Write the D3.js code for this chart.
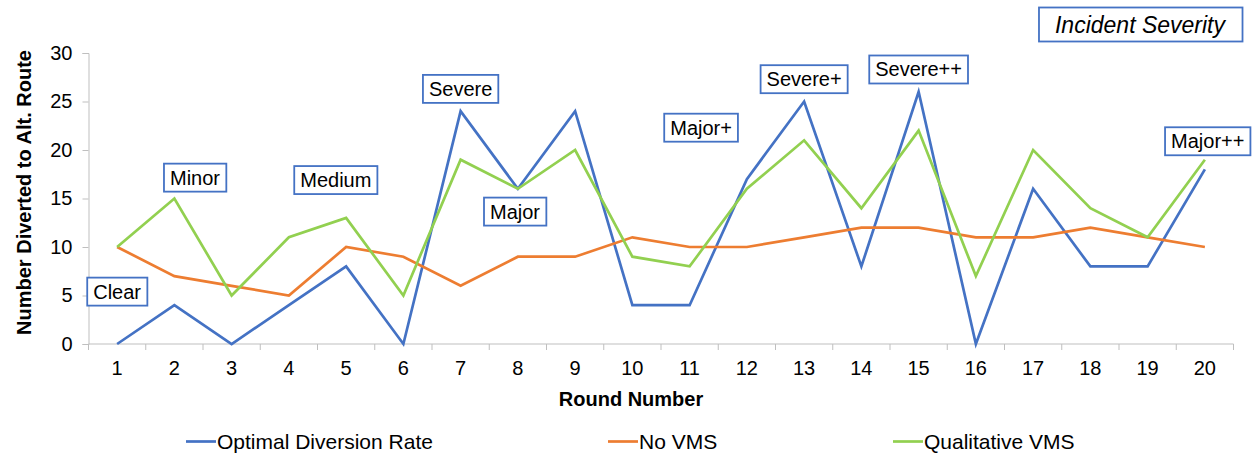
<!DOCTYPE html>
<html>
<head>
<meta charset="utf-8">
<script src="https://cdn.jsdelivr.net/npm/d3@7/dist/d3.min.js"></script>
<style>
  html, body { margin: 0; padding: 0; background: #fff; }
  svg { display: block; font-family: Arial, "Liberation Sans", sans-serif; }
</style>
</head>
<body>
<svg id="chart" width="1254" height="455"></svg>
<script>
// Rounds 1..20
const rounds = d3.range(1, 21);

// Number of drivers diverted to the alternative route per round
const optimalDiversion = [0, 4, 0, 4, 8, 0, 24, 16, 24, 4, 4, 17, 25, 8, 26, 0, 16, 8, 8, 18];
const noVMS            = [10, 7, 6, 5, 10, 9, 6, 9, 9, 11, 10, 10, 11, 12, 12, 11, 11, 12, 11, 10];
const qualitativeVMS   = [10, 15, 5, 11, 13, 5, 19, 16, 20, 9, 8, 16, 21, 14, 22, 7, 20, 14, 11, 19];

const seriesNames  = ["Optimal Diversion Rate", "No VMS", "Qualitative VMS"];
const seriesColors = ["#4472C4", "#ED7D31", "#92D050"];

const yTicks = [0, 5, 10, 15, 20, 25, 30];

// Incident severity callouts, anchored in data coordinates (round, value)
const severityLabels = ["Clear", "Minor", "Medium", "Severe", "Major", "Major+", "Severe+", "Severe++", "Major++"];
const severityRounds = [1.0, 2.36, 4.82, 7.0, 7.95, 11.2, 13.0, 15.0, 20.05];
const severityValues = [5.4, 17.15, 16.9, 26.3, 13.65, 22.3, 27.3, 28.3, 20.9];

const svg = d3.select("#chart");
const x0 = 88.5, x1 = 1233.5;

const x = d3.scaleBand()
  .domain(rounds)
  .range([x0, x1])
  .paddingInner(0).paddingOuter(0);

// continuous round scale for annotation placement (band centres)
const xr = d3.scaleLinear().domain([0.5, 20.5]).range([x0, x1]);

const y = d3.scaleLinear()
  .domain([0, 30])
  .range([344, 53]);

const axisColor = "#BFBFBF";
const fontSize = 20;

// Y axis
const yAxis = svg.append("g")
  .attr("transform", `translate(${x0},0)`)
  .call(d3.axisLeft(y).tickValues(yTicks).tickSize(6).tickPadding(10));
yAxis.select(".domain").attr("stroke", axisColor).attr("stroke-width", 1);
yAxis.selectAll(".tick line").attr("stroke", axisColor);
yAxis.selectAll(".tick text")
  .attr("font-size", fontSize).attr("fill", "#000")
  .attr("font-family", "Arial, 'Liberation Sans', sans-serif");

// X axis: ticks at category boundaries, labels centred in each band
const xAxisG = svg.append("g").attr("transform", `translate(0,${y(0)})`);
xAxisG.append("line")
  .attr("x1", x0).attr("x2", x1)
  .attr("stroke", axisColor).attr("stroke-width", 1);
const boundaries = d3.range(0, rounds.length + 1).map(i => x0 + i * x.step());
xAxisG.selectAll("line.tb").data(boundaries).join("line")
  .attr("class", "tb")
  .attr("x1", d => d).attr("x2", d => d)
  .attr("y1", 0).attr("y2", 6)
  .attr("stroke", axisColor);
xAxisG.selectAll("text").data(rounds).join("text")
  .attr("x", d => x(d) + x.bandwidth() / 2)
  .attr("y", 31)
  .attr("text-anchor", "middle")
  .attr("font-size", fontSize)
  .attr("fill", "#000")
  .text(d => d);

// Axis titles
svg.append("text")
  .attr("x", 631)
  .attr("y", 406)
  .attr("text-anchor", "middle")
  .attr("font-size", fontSize).attr("font-weight", "bold")
  .text("Round Number");

svg.append("text")
  .attr("transform", `translate(31,${(y(0) + y(30)) / 2 - 6}) rotate(-90)`)
  .attr("text-anchor", "middle")
  .attr("font-size", fontSize).attr("font-weight", "bold")
  .text("Number Diverted to Alt. Route");

// Lines
const cx = d => x(d) + x.bandwidth() / 2;
const line = d3.line()
  .x((v, i) => cx(rounds[i]))
  .y(v => y(v));

[optimalDiversion, noVMS, qualitativeVMS].forEach((vals, k) => {
  svg.append("path")
    .datum(vals)
    .attr("d", line)
    .attr("fill", "none")
    .attr("stroke", seriesColors[k])
    .attr("stroke-width", 2.7)
    .attr("stroke-linejoin", "miter");
});

// Severity callout boxes
function callout(label, px, py, opts = {}) {
  const g = svg.append("g");
  const t = g.append("text")
    .attr("x", px).attr("y", py)
    .attr("text-anchor", "middle")
    .attr("dominant-baseline", "central")
    .attr("font-size", opts.size || fontSize)
    .attr("font-style", opts.italic ? "italic" : "normal")
    .attr("fill", "#000")
    .text(label);
  const bb = t.node().getBBox();
  const padX = opts.padX || 6, padY = opts.padY || 3;
  g.insert("rect", "text")
    .attr("x", bb.x - padX).attr("y", bb.y - padY)
    .attr("width", bb.width + 2 * padX).attr("height", bb.height + 2 * padY)
    .attr("fill", "#fff")
    .attr("stroke", "#4472C4").attr("stroke-width", 1.8);
}

severityLabels.forEach((lab, i) => {
  callout(lab, xr(severityRounds[i]), y(severityValues[i]));
});

callout("Incident  Severity", 1140, 24.5, { size: 23, italic: true, padX: 16, padY: 4 });

// Legend
const legendX = [186, 608, 893];
seriesNames.forEach((name, k) => {
  const g = svg.append("g").attr("transform", `translate(${legendX[k]},441.5)`);
  g.append("line")
    .attr("x1", 0).attr("x2", 30)
    .attr("y1", 0).attr("y2", 0)
    .attr("stroke", seriesColors[k]).attr("stroke-width", 2.7);
  g.append("text")
    .attr("x", 31).attr("y", 0)
    .attr("dominant-baseline", "central")
    .attr("font-size", 21)
    .attr("fill", "#000")
    .text(name);
});
</script>
</body>
</html>
